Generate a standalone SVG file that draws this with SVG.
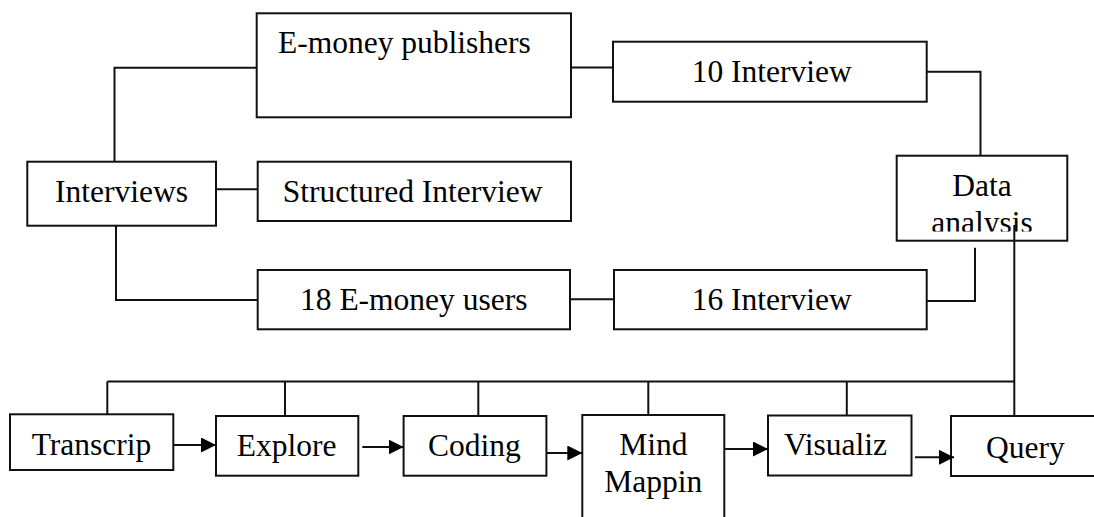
<svg xmlns="http://www.w3.org/2000/svg" width="1094" height="517" viewBox="0 0 1094 517">
  <style>
    .box { fill: #fff; stroke: #111; stroke-width: 2; }
    .lbl { font-family: "Liberation Serif", "Times New Roman", serif; font-size: 31.5px; fill: #000; }
    .mid { text-anchor: middle; }
    .wire { fill: none; stroke: #111; stroke-width: 2; }
  </style>
  <defs>
    <marker id="arrow" markerUnits="userSpaceOnUse" markerWidth="16" markerHeight="16" refX="15" refY="7.5" orient="auto">
      <path d="M0,0 L15,7.5 L0,15 Z" fill="#000"/>
    </marker>
    <clipPath id="dataClip">
      <rect x="898" y="157" width="168" height="74.5"/>
    </clipPath>
  </defs>

  <rect width="1094" height="517" fill="#fff"/>

  <!-- boxes first, connectors drawn over them -->
  <g id="publishers">
    <rect class="box" x="256.7" y="13.3" width="314.3" height="104"/>
    <text class="lbl" x="278" y="53.3">E-money publishers</text>
  </g>
  <g id="interview10">
    <rect class="box" x="613" y="41.7" width="313.7" height="60"/>
    <text class="lbl" x="691.7" y="81.7">10 Interview</text>
  </g>
  <g id="data-analysis">
    <rect class="box" x="896.7" y="155.7" width="170.6" height="85"/>
    <g clip-path="url(#dataClip)">
      <text class="lbl mid" x="982" y="195.7">Data</text>
      <text class="lbl mid" x="982" y="232.6">analysis</text>
    </g>
  </g>
  <g id="interviews">
    <rect class="box" x="27.3" y="161.7" width="188.7" height="64"/>
    <text class="lbl" x="55" y="201.7">Interviews</text>
  </g>
  <g id="structured">
    <rect class="box" x="257.7" y="161.7" width="313.3" height="59.3"/>
    <text class="lbl" x="282.7" y="201.7">Structured Interview</text>
  </g>
  <g id="users18">
    <rect class="box" x="257.7" y="270" width="312.3" height="59.3"/>
    <text class="lbl" x="300" y="310">18 E-money users</text>
  </g>
  <g id="interview16">
    <rect class="box" x="614" y="270" width="312.7" height="59.3"/>
    <text class="lbl" x="691.7" y="310">16 Interview</text>
  </g>

  <g id="transcrip">
    <rect class="box" x="10" y="414.3" width="163.3" height="55.7"/>
    <text class="lbl" x="31.7" y="455">Transcrip</text>
  </g>
  <g id="explore">
    <rect class="box" x="216" y="416" width="142.3" height="59.7"/>
    <text class="lbl" x="236.7" y="456">Explore</text>
  </g>
  <g id="coding">
    <rect class="box" x="403.6" y="416" width="142.8" height="59.7"/>
    <text class="lbl" x="428" y="456">Coding</text>
  </g>
  <g id="mind-mappin">
    <rect class="box" x="582.3" y="415" width="142" height="120"/>
    <text class="lbl mid" x="653.3" y="455">Mind</text>
    <text class="lbl mid" x="653.3" y="491.7">Mappin</text>
  </g>
  <g id="visualiz">
    <rect class="box" x="768" y="415.5" width="143.5" height="60"/>
    <text class="lbl" x="784" y="455">Visualiz</text>
  </g>
  <g id="query">
    <rect class="box" x="951" y="416" width="160" height="60"/>
    <text class="lbl" x="986" y="457.5">Query</text>
  </g>

  <g id="connectors">
    <!-- interview tree -->
    <polyline class="wire" points="256.7,67.7 114.5,67.7 114.5,161.7"/>
    <line class="wire" x1="571" y1="67.5" x2="613" y2="67.5"/>
    <polyline class="wire" points="926.7,71.7 980.5,71.7 980.5,155.7"/>
    <line class="wire" x1="216" y1="189.3" x2="257.7" y2="189.3"/>
    <polyline class="wire" points="116,225.7 116,300 257.7,300"/>
    <line class="wire" x1="570" y1="299.3" x2="614" y2="299.3"/>
    <polyline class="wire" points="926.7,301 975,301 975,247.7"/>

    <!-- analysis bus -->
    <line class="wire" x1="1014.3" y1="225" x2="1014.3" y2="416"/>
    <line class="wire" x1="107.3" y1="381.5" x2="1014.3" y2="381.5"/>
    <line class="wire" x1="107.3" y1="381.5" x2="107.3" y2="414.3"/>
    <line class="wire" x1="285" y1="381.5" x2="285" y2="416"/>
    <line class="wire" x1="478.3" y1="381.5" x2="478.3" y2="416"/>
    <line class="wire" x1="648.3" y1="381.5" x2="648.3" y2="415"/>
    <line class="wire" x1="846.8" y1="381.5" x2="846.8" y2="415.5"/>

    <!-- process arrows -->
    <line class="wire" x1="173.3" y1="445" x2="216" y2="445" marker-end="url(#arrow)"/>
    <line class="wire" x1="362.3" y1="447" x2="403.6" y2="447" marker-end="url(#arrow)"/>
    <line class="wire" x1="546.4" y1="453" x2="582.3" y2="453" marker-end="url(#arrow)"/>
    <line class="wire" x1="724.3" y1="449" x2="768" y2="449" marker-end="url(#arrow)"/>
    <line class="wire" x1="915" y1="457.3" x2="954" y2="457.3" marker-end="url(#arrow)"/>
  </g>
</svg>
